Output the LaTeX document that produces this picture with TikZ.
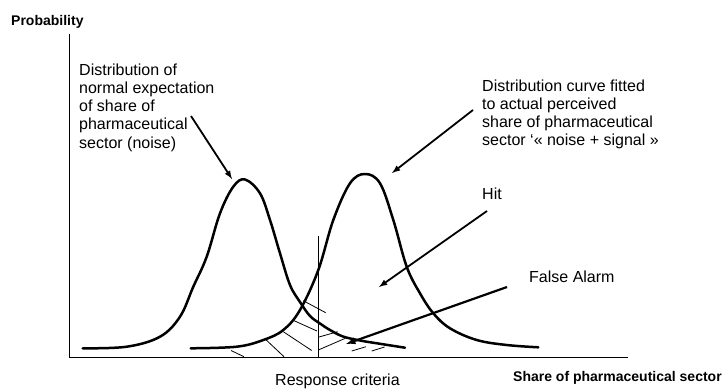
\documentclass[tikz,border=0pt]{standalone}
\usepackage{fontspec}
\setmainfont{Liberation Sans}
\usetikzlibrary{arrows, positioning}

\begin{document}
\begin{tikzpicture}[x=1pt,y=-1pt,
  lbl/.style={font=\fontsize{16}{18.3}\selectfont, align=left, inner sep=0pt},
  axlbl/.style={font=\fontsize{14}{16}\selectfont\bfseries, inner sep=0pt},
  curve/.style={line width=2.5pt, line join=round, line cap=round},
  pointer/.style={->,>=latex,line width=1.8pt},
  thin line/.style={line width=0.9pt},
  hatch/.style={line width=0.8pt}]
\useasboundingbox (0,0) rectangle (724,389);

\coordinate (ytop) at (69,34);
\coordinate (origin) at (69,357);
\coordinate (xend) at (628,357);
\draw[thin line] (ytop) -- (origin) -- (xend);
\node[axlbl, anchor=base west] (prob) at (11,25.7) {Probability};
\node[axlbl, anchor=base west] (share) at (513,381) {Share of pharmaceutical sector};

\coordinate (crittop) at (318,236);
\coordinate (critbot) at (318,357);
\draw[thin line] (crittop) -- (critbot);
\node[lbl, anchor=base west] (crit) at (275,385) {Response criteria};

\foreach \xa/\ya/\xb/\yb in {303.3/300.7/325.7/312.7, 292.5/320/317/331, 283.3/331.7/311.7/350.5,
    265.5/339.3/284/356.7, 231/350.5/244/356.7, 319/337/337.7/331.7, 319/349.7/345.3/338.3,
    351.7/351/366/346.7, 371.7/351/384.5/347}{
  \draw[hatch] (\xa,\ya) -- (\xb,\yb);
}

\draw[curve] plot[smooth, tension=0.6] coordinates {(82.7,348.3) (126.7,346.7) (160,336.7) (180,316.7)
  (193.3,286.7) (206.7,256.7) (220,213.3) (233.3,186.7) (245,179.5) (260,193.3) (270,220) (280,253.3)
  (290,285) (300,302) (310,316) (320,323.5) (330,330) (343,336.5) (360,340.5) (377,343.3) (405,347.7)};
\draw[curve] plot[smooth, tension=0.6] coordinates {(190.7,348.3) (236.7,346.7) (263.3,340) (283.3,330)
  (300,310) (318.3,270) (333.3,220) (350,183.3) (365,174) (380,183.3) (393.3,220) (406.7,266.7)
  (420,293.3) (433.3,313.3) (450,328.3) (476.7,340) (506.7,345) (538.3,347.3)};

\node[lbl, anchor=north west] (noise) at (79,63.3) {Distribution of\\normal expectation\\of share of\\pharmaceutical\\sector (noise)};
\node[lbl, anchor=north west] (signal) at (482,79.3) {Distribution curve fitted\\to actual perceived\\share of pharmaceutical\\sector ‘« noise + signal »};
\node[lbl, anchor=base west] (hit) at (482,199) {Hit};
\node[lbl, anchor=base west] (alarm) at (529,282) {False Alarm};

\coordinate (noisetail) at (191,116);
\coordinate (noisetip) at (232,179);
\coordinate (signaltail) at (473,110);
\coordinate (signaltip) at (392,173);
\coordinate (hittail) at (487,211);
\coordinate (hittip) at (379,287);
\coordinate (alarmtail) at (507,287);
\coordinate (alarmtip) at (346,344);
\draw[pointer] (noisetail) -- (noisetip);
\draw[pointer] (signaltail) -- (signaltip);
\draw[pointer] (hittail) -- (hittip);
\draw[pointer, line width=2.2pt] (alarmtail) -- (alarmtip);
\end{tikzpicture}
\end{document}
